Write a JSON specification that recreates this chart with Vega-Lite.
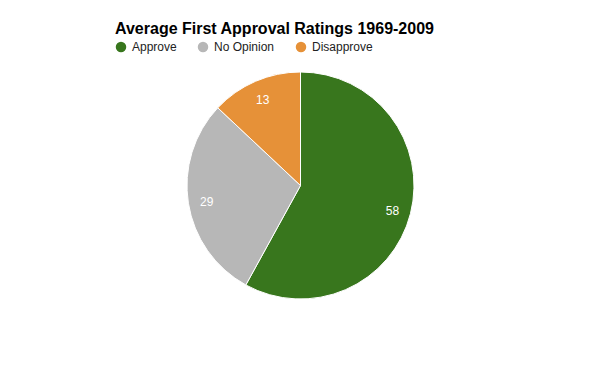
{
  "$schema": "https://vega.github.io/schema/vega-lite/v6.json",
  "width": 371,
  "height": 227,
  "padding": {"left": 115, "top": 21, "right": 0, "bottom": 0},
  "background": "white",
  "title": {
    "text": "Average First Approval Ratings 1969-2009",
    "anchor": "start",
    "frame": "group",
    "font": "Liberation Sans",
    "fontSize": 16,
    "fontWeight": "bold",
    "color": "#000000",
    "offset": 4
  },
  "data": {
    "values": [
      {"response": "Approve", "value": 58, "idx": 1},
      {"response": "No Opinion", "value": 29, "idx": 2},
      {"response": "Disapprove", "value": 13, "idx": 3}
    ]
  },
  "encoding": {
    "theta": {"field": "value", "type": "quantitative", "stack": true},
    "order": {"field": "idx", "type": "quantitative"},
    "color": {
      "field": "response",
      "type": "nominal",
      "scale": {"domain": ["Approve", "No Opinion", "Disapprove"], "range": ["#38761d", "#b7b7b7", "#e69138"]},
      "legend": {
        "title": null,
        "orient": "top",
        "direction": "horizontal",
        "symbolType": "circle",
        "symbolSize": 110,
        "symbolStrokeWidth": 0,
        "labelFont": "Liberation Sans",
        "labelFontSize": 12,
        "labelColor": "#222222",
        "labelOffset": 5,
        "columnPadding": 20,
        "offset": 19
      }
    }
  },
  "layer": [
    {"mark": {"type": "arc", "stroke": "white", "strokeWidth": 1}},
    {
      "mark": {"type": "text", "radius": 95, "dy": 2, "font": "Liberation Sans", "fontSize": 12},
      "encoding": {
        "text": {"field": "value", "type": "quantitative"},
        "color": {"value": "white"}
      }
    }
  ],
  "config": {"view": {"stroke": null}}
}
